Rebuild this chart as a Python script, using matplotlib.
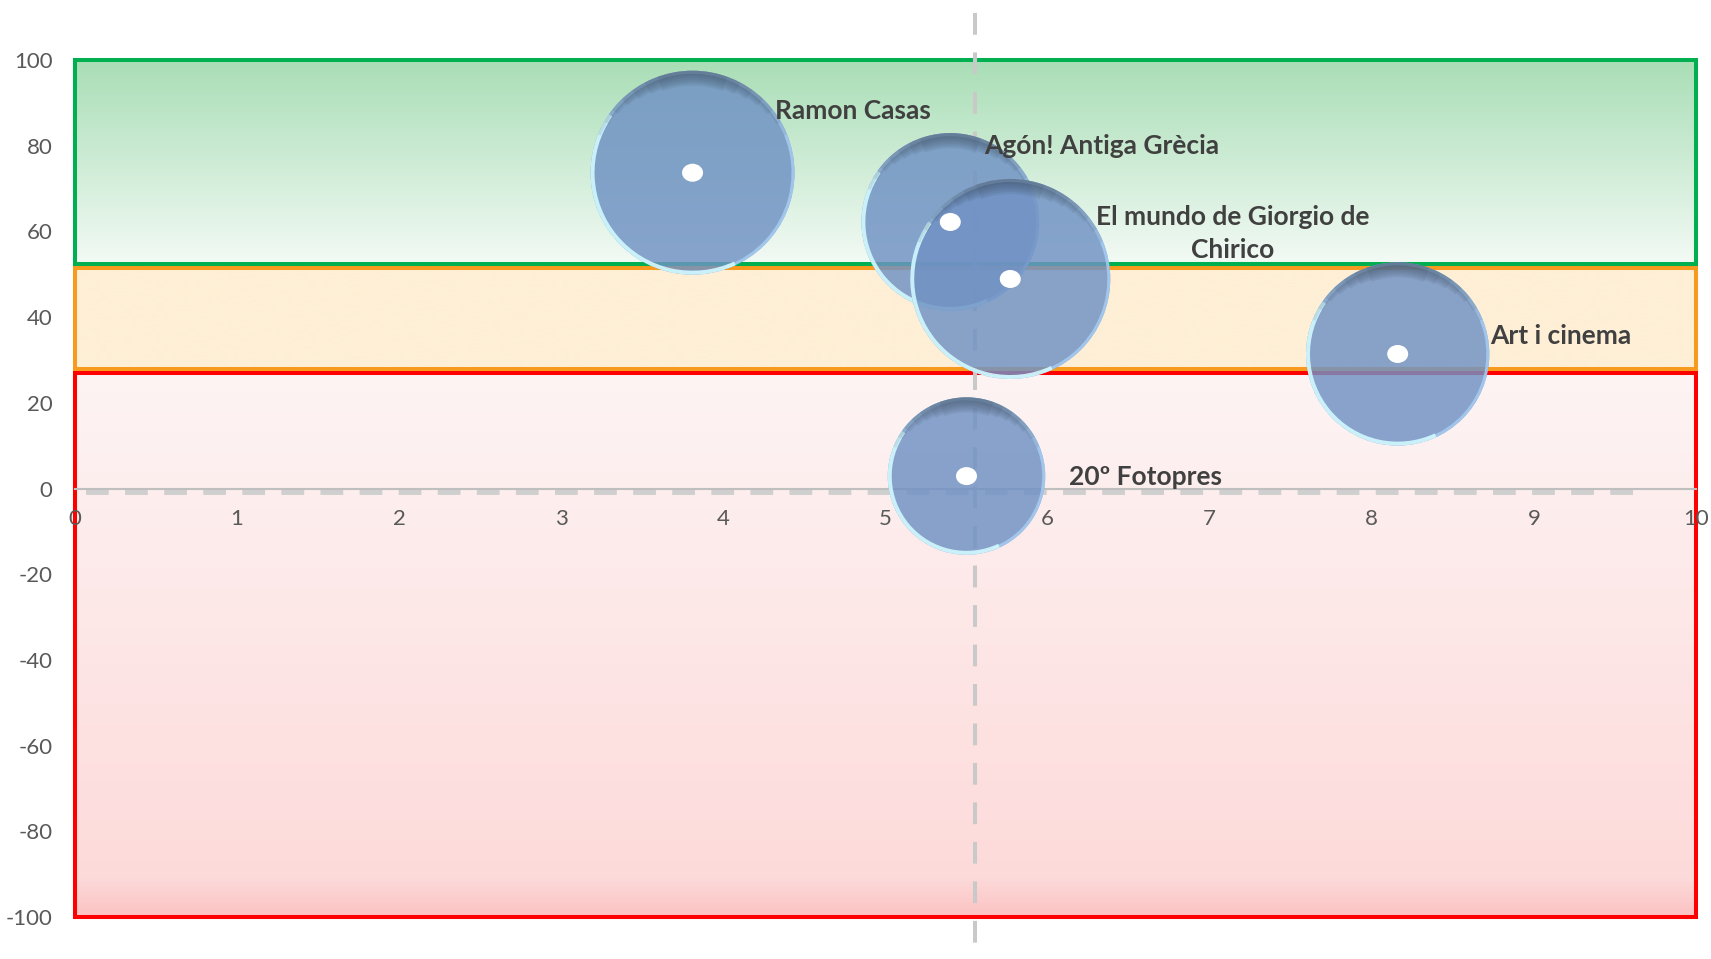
import numpy as np
import matplotlib.pyplot as plt
from matplotlib.colors import LinearSegmentedColormap
from matplotlib.patches import Circle, Wedge, Ellipse
from matplotlib.transforms import Affine2D, ScaledTranslation

plt.rcParams['font.family'] = ['Lato', 'DejaVu Sans']
plt.rcParams['axes.unicode_minus'] = False

# exposicions (bombolles)
noms = ['Ramon Casas', 'Agón! Antiga Grècia', 'El mundo de Giorgio de\nChirico',
        'Art i cinema', '20º Fotopres']
valor_x = [3.81, 5.40, 5.77, 8.16, 5.50]
valor_y = [73.7, 62.2, 48.9, 31.4, 2.9]
mida = [104, 79, 100, 84, 62]

# franges de fons (y inferior, y superior)
franja_verda = (52.4, 100)
franja_taronja = (27.8, 51.5)
franja_vermella = (-100, 26.9)

linia_v = 5.55   # línia vertical discontínua
linia_h = -0.8   # línia horitzontal discontínua
xticks = list(range(0, 11))
yticks = list(range(-100, 101, 20))

fig = plt.figure(figsize=(17.11, 9.59), dpi=100)
ax = fig.add_axes([0.0438, 0.0438, 0.9474, 0.8936])


def franja(y0, y1, colors, vora):
    cmap = LinearSegmentedColormap.from_list('f', colors)
    grad = np.linspace(0, 1, 256).reshape(-1, 1)
    ax.imshow(grad, extent=(0, 10, y0, y1), origin='lower', cmap=cmap,
              aspect='auto', zorder=0, interpolation='bilinear')
    ax.add_patch(plt.Rectangle((0, y0), 10, y1 - y0, fill=False, ec=vora,
                               lw=2.9, zorder=1, clip_on=False))


franja(*franja_vermella, [(0, '#FCC2C2'), (0.07, '#FDDADA'), (1, '#FEF4F4')], '#FF0000')
franja(*franja_taronja, ['#FEEFD6', '#FEEFD6'], '#F79A1E')
franja(*franja_verda, ['#F3FAF5', '#A9DEB6'], '#00B050')

ax.set_xlim(0, 10)
ax.set_ylim(-100, 100)

# línies de referència
ax.plot([linia_v, linia_v], [111, -125], color='#C9C9C9', lw=2.9,
        dashes=(5.4, 4.4), zorder=2, clip_on=False)
ax.plot([0.07, 9.66], [linia_h, linia_h], color='#CFCFCF', lw=4.2,
        dashes=(3.9, 2.8), zorder=2)

# bombolles
r_max = 102
for i in range(len(noms)):
    r = r_max * np.sqrt(mida[i] / max(mida))
    tr = Affine2D() + ScaledTranslation(valor_x[i], valor_y[i], ax.transData)
    z = 5 + i * 5
    ax.add_patch(Circle((0, 0), r, fc='#7092C4', ec='none', alpha=0.83,
                        transform=tr, zorder=z, clip_on=False))
    # vora clara
    ax.add_patch(Wedge((0, 0), r, -70, 150, width=3, fc='#A9CFF5', ec='none',
                       alpha=0.8, transform=tr, zorder=z + 1, clip_on=False))
    ax.add_patch(Wedge((0, 0), r, 145, 295, width=4, fc='#D2FAFF', ec='none',
                       alpha=0.9, transform=tr, zorder=z + 1, clip_on=False))
    # ombra superior
    for k in range(7):
        ax.add_patch(Wedge((0, 0), r, 22 + k * 8, 158 - k * 8, width=3 + 2 * k,
                           fc='#3A4B5C', ec='none', alpha=0.11,
                           transform=tr, zorder=z + 2, clip_on=False))

for i in range(len(noms)):
    tr = Affine2D() + ScaledTranslation(valor_x[i], valor_y[i], ax.transData)
    ax.add_patch(Ellipse((0, 0), 21, 18, fc='white', ec='none',
                         transform=tr, zorder=35, clip_on=False))

# etiquetes
pos_etiqueta = [(4.32, 88.0, 'left'), (5.61, 80.0, 'left'), (7.14, 59.5, 'center'),
                (8.73, 35.7, 'left'), (6.13, 2.6, 'left')]
for nom, (x, y, ha) in zip(noms, pos_etiqueta):
    ax.text(x, y, nom, ha=ha, va='center', fontsize=19, fontweight='bold',
            color='#404040', zorder=40, linespacing=1.45)

ax.set_xticks(xticks)
ax.set_yticks(yticks)
ax.tick_params(length=0, labelsize=16, colors='#595959')
ax.tick_params(axis='x', pad=15)
ax.tick_params(axis='y', pad=16)
ax.spines['bottom'].set_position(('data', 0))
ax.spines['bottom'].set_color('#BFBFBF')
ax.spines['bottom'].set_linewidth(1.5)
ax.spines['bottom'].set_zorder(3)
for s in ['top', 'right', 'left']:
    ax.spines[s].set_visible(False)

plt.savefig('out.png', dpi=100)
